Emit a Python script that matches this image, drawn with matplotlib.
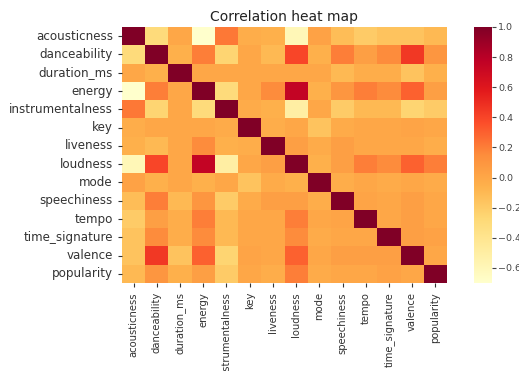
import numpy as np
import matplotlib
matplotlib.use("Agg")
import matplotlib.pyplot as plt
import seaborn as sns
import pandas as pd

features = ["acousticness", "danceability", "duration_ms", "energy",
            "instrumentalness", "key", "liveness", "loudness", "mode",
            "speechiness", "tempo", "time_signature", "valence", "popularity"]

# lower-triangle rows; matrix is symmetric
r_acousticness     = [1.0]
r_danceability     = [-0.30, 1.0]
r_duration_ms      = [0.00, -0.05, 1.0]
r_energy           = [-0.70, 0.20, 0.00, 1.0]
r_instrumentalness = [0.22, -0.25, 0.00, -0.30, 1.0]
r_key              = [-0.03, 0.00, 0.00, 0.00, -0.02, 1.0]
r_liveness         = [-0.05, -0.10, 0.00, 0.15, -0.05, -0.03, 1.0]
r_loudness         = [-0.60, 0.40, 0.00, 0.75, -0.50, 0.00, 0.05, 1.0]
r_mode             = [0.03, -0.05, 0.00, -0.05, 0.00, -0.15, -0.02, -0.05, 1.0]
r_speechiness      = [-0.12, 0.20, -0.10, 0.10, -0.20, -0.02, 0.05, 0.05, -0.03, 1.0]
r_tempo            = [-0.20, 0.05, -0.03, 0.20, -0.10, 0.00, 0.00, 0.20, 0.00, 0.02, 1.0]
r_time_signature   = [-0.15, 0.15, -0.03, 0.15, -0.10, 0.00, 0.00, 0.15, -0.02, 0.00, 0.00, 1.0]
r_valence          = [-0.15, 0.45, -0.15, 0.30, -0.25, 0.02, 0.00, 0.30, 0.00, 0.05, 0.05, 0.05, 1.0]
r_popularity       = [-0.10, 0.10, -0.05, 0.05, -0.20, 0.00, -0.03, 0.20, -0.02, 0.00, 0.00, 0.03, 0.00, 1.0]

rows = [r_acousticness, r_danceability, r_duration_ms, r_energy, r_instrumentalness,
        r_key, r_liveness, r_loudness, r_mode, r_speechiness, r_tempo,
        r_time_signature, r_valence, r_popularity]

cbar_ticks = [1.0, 0.8, 0.6, 0.4, 0.2, 0.0, -0.2, -0.4, -0.6]

n = len(features)
M = np.zeros((n, n))
for i, r in enumerate(rows):
    for j, v in enumerate(r):
        M[i, j] = v
        M[j, i] = v
corr = pd.DataFrame(M, index=features, columns=features)

W, H = 519, 371
fig = plt.figure(figsize=(W / 100, H / 100), dpi=100)
ax = fig.add_axes([122 / W, (H - 283) / H, (447 - 122) / W, (283 - 27) / H])
cax = fig.add_axes([474 / W, (H - 283) / H, 18 / W, (283 - 27) / H])

sns.heatmap(corr, cmap="YlOrRd", ax=ax, cbar_ax=cax)
ax.set_title("Correlation heat map", fontsize=10, color="#222222", pad=4)
ax.tick_params(axis="y", labelsize=8.6, colors="#333333", length=3)
ax.tick_params(axis="x", colors="#333333", length=3)
ax.set_xticklabels(features, rotation=90, fontsize=8.0,
                   fontfamily="DejaVu Sans", fontstretch="condensed")
ax.set_yticklabels(features, rotation=0)
cax.tick_params(labelsize=6.8, colors="#444444", length=3, pad=1.5)
cax.set_yticks(cbar_ticks)

fig.savefig("out.png", dpi=100)
